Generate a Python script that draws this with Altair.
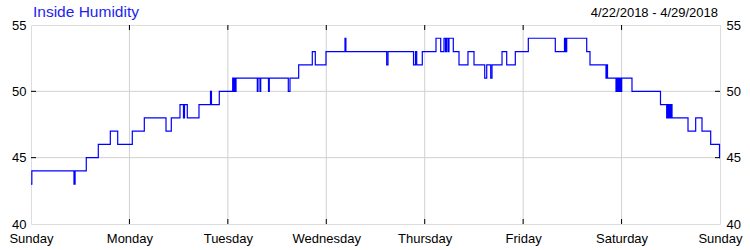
import altair as alt
import pandas as pd

# ---- data ----
day_names = ["Sunday", "Monday", "Tuesday", "Wednesday", "Thursday", "Friday", "Saturday", "Sunday"]
title_text = ["Inside Humidity"]
date_range = ["4/22/2018 - 4/29/2018"]
y_ticks = [40, 45, 50, 55]

# hours since Sunday 00:00 at which the reading changes
hours = [
    0.0, 0.2, 10.48, 10.75, 13.48, 16.41, 19.34, 21.14, 24.70, 27.63,
    32.92, 34.21, 36.33, 37.18, 37.43, 38.11, 40.96, 43.77, 44.0, 45.91,
    49.18, 49.38, 49.62, 49.81, 49.99, 55.18, 55.35, 55.84, 56.01, 57.91,
    58.10, 62.74, 63.15, 65.27, 68.59, 69.32, 71.93, 76.56, 76.78, 86.73,
    87.05, 93.27, 93.75, 94.05, 95.41, 98.75, 99.90, 100.70, 101.07, 101.31,
    101.68, 101.92, 102.97, 104.36, 106.55, 108.02, 110.63, 111.12, 112.09, 112.41,
    114.85, 115.99, 118.09, 121.26, 127.84, 130.08, 130.33, 130.62, 135.50, 136.30,
    140.20, 140.37, 140.57, 142.64, 142.89, 143.06, 143.25, 143.42, 143.62, 143.79,
    144.03, 146.54, 153.49, 155.00, 155.20, 155.44, 155.64, 155.93, 156.05, 156.30,
    160.20, 162.07, 163.61, 165.73, 167.88, 168.0,
]
humidity = [
    43, 44, 43, 44, 45, 46, 47, 46, 47, 48,
    47, 48, 49, 48, 49, 48, 49, 50, 49, 50,
    51, 50, 51, 50, 51, 50, 51, 50, 51, 50,
    51, 50, 51, 52, 53, 52, 53, 54, 53, 52,
    53, 52, 53, 52, 53, 54, 53, 54, 53, 54,
    53, 54, 53, 52, 53, 52, 51, 52, 51, 52,
    53, 52, 53, 54, 53, 54, 53, 54, 53, 52,
    51, 52, 51, 50, 51, 50, 51, 50, 51, 50,
    51, 50, 49, 48, 49, 48, 49, 48, 49, 48,
    47, 48, 47, 46, 45, 45,
]

df = pd.DataFrame({"h": hours, "v": humidity})
day_hours = [24 * i for i in range(len(day_names))]
inner_day_ticks = pd.DataFrame({"h": day_hours[1:-1]})
inner_y_ticks = pd.DataFrame({"v": y_ticks[1:-1]})

W, H = 689, 199
FONT = "Liberation Sans"
GRID = "#D0D0D0"
xscale = alt.Scale(domain=[0, 168], nice=False, zero=False)
yscale = alt.Scale(domain=[40, 55], nice=False, zero=False)

label_expr = "[" + ",".join("'" + d + "'" for d in day_names) + "][round(datum.value/24)]"

x_axis = alt.Axis(values=day_hours, labelExpr=label_expr,
                  grid=False, ticks=False, domain=False,
                  labelFlush=False, labelOverlap=False, labelBound=False,
                  labelPadding=8, labelFontSize=13, labelFont=FONT, labelColor="#000000",
                  title=None, orient="bottom")

left_axis = alt.Axis(values=y_ticks, grid=False, ticks=False, domain=False,
                     labelPadding=5, labelFontSize=13, labelFont=FONT, labelColor="#000000",
                     title=None, orient="left")
right_axis = alt.Axis(values=y_ticks, grid=False, ticks=False, domain=False,
                      labelPadding=6, labelFontSize=13, labelFont=FONT, labelColor="#000000",
                      title=None, orient="right")

X = alt.X("h:Q", scale=xscale, axis=x_axis)

# grid lines
x_grid = alt.Chart(inner_day_ticks).mark_rule(color=GRID, strokeWidth=1).encode(
    x=X, y=alt.value(0), y2=alt.value(H))
y_grid = alt.Chart(inner_y_ticks).mark_rule(color=GRID, strokeWidth=1).encode(
    y=alt.Y("v:Q", scale=yscale, axis=left_axis), x=alt.value(0), x2=alt.value(W))

line = alt.Chart(df).mark_line(interpolate="step-after", color="#0000FF", strokeWidth=1.2).encode(
    x=X,
    y=alt.Y("v:Q", scale=yscale, axis=left_axis),
)

right = alt.Chart(df).mark_line(opacity=0).encode(
    x=X,
    y=alt.Y("v:Q", scale=yscale, axis=right_axis),
)

top_ticks = alt.Chart(inner_day_ticks).mark_rule(color="#000000").encode(
    x=X, y=alt.value(0), y2=alt.value(5))
bottom_ticks = alt.Chart(inner_day_ticks).mark_rule(color="#000000").encode(
    x=X, y=alt.value(H - 5), y2=alt.value(H))
left_ticks = alt.Chart(inner_y_ticks).mark_rule(color="#000000").encode(
    y=alt.Y("v:Q", scale=yscale, axis=left_axis), x=alt.value(0), x2=alt.value(5))
right_ticks = alt.Chart(inner_y_ticks).mark_rule(color="#000000").encode(
    y=alt.Y("v:Q", scale=yscale, axis=left_axis), x=alt.value(W - 5), x2=alt.value(W))

title = alt.Chart(pd.DataFrame({"t": title_text})).mark_text(
    align="left", baseline="alphabetic", font=FONT, fontSize=15.5, color="#1E1EF0"
).encode(text="t:N", x=alt.value(2), y=alt.value(-8))

dates = alt.Chart(pd.DataFrame({"t": date_range})).mark_text(
    align="right", baseline="alphabetic", font=FONT, fontSize=13, color="#000000"
).encode(text="t:N", x=alt.value(W - 2), y=alt.value(-8))

left_group = alt.layer(x_grid, y_grid, line, top_ticks, bottom_ticks, left_ticks, right_ticks, title, dates)

chart = alt.layer(left_group, right).resolve_scale(
    y="independent"
).properties(
    width=W, height=H,
    autosize=alt.AutoSizeParams(type="none"),
    padding={"left": 31, "top": 25, "right": 30, "bottom": 26},
).configure_view(stroke="#000000", strokeWidth=1).configure(background="white")

chart.save("out.html", embed_options={"renderer": "svg", "actions": False})
